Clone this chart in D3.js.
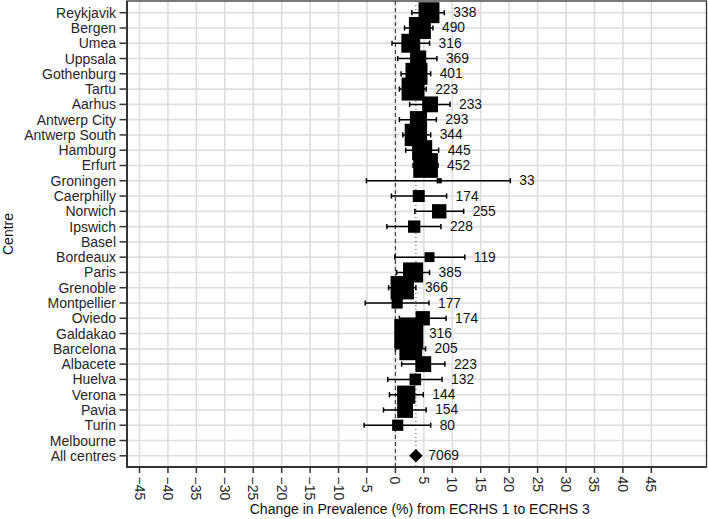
<!DOCTYPE html>
<html>
<head>
<meta charset="utf-8">
<script src="https://cdn.jsdelivr.net/npm/d3@7"></script>
<style>
  html, body { margin: 0; padding: 0; background: #fff; }
  svg { display: block; font-family: "Liberation Sans", Arial, sans-serif; }
</style>
</head>
<body>
<svg id="chart" width="708" height="519"></svg>
<script>
const centres = ["Reykjavik","Bergen","Umea","Uppsala","Gothenburg","Tartu","Aarhus","Antwerp City","Antwerp South","Hamburg","Erfurt","Groningen","Caerphilly","Norwich","Ipswich","Basel","Bordeaux","Paris","Grenoble","Montpellier","Oviedo","Galdakao","Barcelona","Albacete","Huelva","Verona","Pavia","Turin","Melbourne","All centres"];
const estimate = [5.9, 4.3, 2.7, 4.0, 3.7, 3.1, 6.1, 4.05, 3.6, 4.7, 5.3, 7.7, 4.1, 7.7, 3.3, null, 6.0, 3.1, 1.2, 0.3, 4.8, 2.35, 2.7, 4.9, 3.5, 1.9, 1.7, 0.4, null, 3.6];
const lower = [2.9, 1.6, -0.6, 0.4, 1.0, 0.7, 2.5, 0.7, 1.3, 1.8, 3.1, -5.1, -0.7, 3.4, -1.5, null, -0.1, 0.2, -1.2, -5.3, 0.7, 0.4, 0.0, 1.1, -1.35, -1.05, -2.1, -5.5, null, 3.0];
const upper = [8.6, 6.6, 6.0, 7.3, 6.2, 5.4, 9.6, 7.2, 6.2, 7.6, 7.5, 20.2, 9.0, 12.0, 8.0, null, 12.2, 6.0, 3.6, 5.9, 8.9, 4.3, 5.3, 8.7, 8.2, 4.9, 5.4, 6.2, null, 4.2];
const nSubjects = [338, 490, 316, 369, 401, 223, 233, 293, 344, 445, 452, 33, 174, 255, 228, null, 119, 385, 366, 177, 174, 316, 205, 223, 132, 144, 154, 80, null, 7069];
const weight = [4.9, 5.4, 4.0, 2.9, 5.4, 5.9, 2.8, 3.3, 5.6, 4.5, 6.8, 0.3, 1.6, 2.3, 1.7, null, 1.1, 4.5, 6.1, 1.4, 2.3, 9.4, 5.8, 2.8, 1.5, 3.7, 2.8, 1.4, null, null];
const overallName = "All centres";
const xTicks = [-45, -40, -35, -30, -25, -20, -15, -10, -5, 0, 5, 10, 15, 20, 25, 30, 35, 40, 45];
const xTitle = "Change in Prevalence (%) from ECRHS 1 to ECRHS 3";
const yTitle = "Centre";

const rows = centres.map((c, i) => ({
  centre: c, est: estimate[i], lo: lower[i], hi: upper[i], n: nSubjects[i], w: weight[i]
}));
const overall = rows.find(r => r.centre === overallName);

const svg = d3.select("#chart");
const panel = { left: 127, right: 706.5, top: 1, bottom: 467 };

const x = d3.scaleLinear().domain([-47.2, 54.7]).range([panel.left, panel.right]);
const y = d3.scalePoint().domain(centres).range([12.7, 455.8]);
const side = d3.scaleSqrt().domain([0, 10]).range([0, 29.9]);

const textCol = "#262626";
const fontSize = 14;

// panel background
svg.append("rect").attr("x", panel.left).attr("y", panel.top)
  .attr("width", panel.right - panel.left).attr("height", panel.bottom - panel.top)
  .attr("fill", "#fff");

// grid
const grid = svg.append("g").attr("stroke", "#dedede").attr("stroke-width", 1.6);
grid.selectAll("line.v").data(xTicks).join("line").attr("class", "v")
  .attr("x1", d => x(d)).attr("x2", d => x(d))
  .attr("y1", panel.top).attr("y2", panel.bottom);
grid.selectAll("line.h").data(centres).join("line").attr("class", "h")
  .attr("x1", panel.left).attr("x2", panel.right)
  .attr("y1", d => y(d)).attr("y2", d => y(d));

// reference lines
svg.append("line").attr("x1", x(0)).attr("x2", x(0))
  .attr("y1", panel.top).attr("y2", panel.bottom)
  .attr("stroke", "#444").attr("stroke-width", 1.2).attr("stroke-dasharray", "4,3");
svg.append("line").attr("x1", x(overall.est)).attr("x2", x(overall.est))
  .attr("y1", panel.top).attr("y2", panel.bottom)
  .attr("stroke", "#555").attr("stroke-width", 1.1).attr("stroke-dasharray", "1,3");

const valid = rows.filter(r => r.est != null);
const centreRows = valid.filter(r => r.centre !== overallName);

// whiskers
const wg = svg.append("g").attr("stroke", "#000").attr("stroke-width", 1.5);
valid.forEach(r => {
  const yy = y(r.centre);
  wg.append("line").attr("x1", x(r.lo)).attr("x2", x(r.hi)).attr("y1", yy).attr("y2", yy);
  [r.lo, r.hi].forEach(v => {
    wg.append("line").attr("x1", x(v)).attr("x2", x(v)).attr("y1", yy - 2.6).attr("y2", yy + 2.6);
  });
});

// squares
svg.append("g").selectAll("rect").data(centreRows).join("rect")
  .attr("x", d => x(d.est) - side(d.w) / 2)
  .attr("y", d => y(d.centre) - side(d.w) / 2)
  .attr("width", d => side(d.w)).attr("height", d => side(d.w))
  .attr("fill", "#000");

// overall diamond
const dx = x(overall.est), dy = y(overall.centre), dr = 6.8;
svg.append("path")
  .attr("d", `M${dx},${dy - dr}L${dx + dr},${dy}L${dx},${dy + dr}L${dx - dr},${dy}Z`)
  .attr("fill", "#000");

// n labels
svg.append("g").selectAll("text").data(valid).join("text")
  .attr("x", d => x(d.hi) + 9).attr("y", d => y(d.centre))
  .attr("dominant-baseline", "central")
  .attr("font-size", 13.8).attr("fill", "#111")
  .text(d => d.n);

// panel border
svg.append("rect").attr("x", panel.left).attr("y", panel.top)
  .attr("width", panel.right - panel.left).attr("height", panel.bottom - panel.top)
  .attr("fill", "none").attr("stroke", "#333").attr("stroke-width", 1.3);
// axis lines (thicker)
svg.append("line").attr("x1", panel.left).attr("x2", panel.left)
  .attr("y1", panel.top).attr("y2", panel.bottom + 0.8)
  .attr("stroke", "#333").attr("stroke-width", 2);
svg.append("line").attr("x1", panel.left - 0.8).attr("x2", panel.right)
  .attr("y1", panel.bottom).attr("y2", panel.bottom)
  .attr("stroke", "#333").attr("stroke-width", 2);

// y axis
const yAxis = svg.append("g");
yAxis.selectAll("line").data(centres).join("line")
  .attr("x1", panel.left - 7.5).attr("x2", panel.left)
  .attr("y1", d => y(d)).attr("y2", d => y(d))
  .attr("stroke", "#333").attr("stroke-width", 1.5);
yAxis.selectAll("text").data(centres).join("text")
  .attr("x", panel.left - 11).attr("y", d => y(d))
  .attr("text-anchor", "end").attr("dominant-baseline", "central")
  .attr("font-size", fontSize).attr("fill", textCol)
  .text(d => d);

// x axis
const xAxis = svg.append("g");
xAxis.selectAll("line").data(xTicks).join("line")
  .attr("x1", d => x(d)).attr("x2", d => x(d))
  .attr("y1", panel.bottom).attr("y2", panel.bottom + 6)
  .attr("stroke", "#333").attr("stroke-width", 1.5);
xAxis.selectAll("text").data(xTicks).join("text")
  .attr("transform", d => `translate(${x(d)},${panel.bottom + 9.5}) rotate(90)`)
  .attr("text-anchor", "start").attr("dominant-baseline", "central")
  .attr("font-size", fontSize).attr("fill", textCol)
  .text(d => d < 0 ? "\u2212" + Math.abs(d) : String(d));

// titles
svg.append("text").attr("x", (panel.left + panel.right) / 2 + 3).attr("y", 514)
  .attr("text-anchor", "middle").attr("font-size", fontSize).attr("fill", "#111")
  .text(xTitle);
svg.append("text").attr("transform", `translate(12.5,${(panel.top + panel.bottom) / 2}) rotate(-90)`)
  .attr("text-anchor", "middle").attr("font-size", fontSize).attr("fill", "#111")
  .text(yTitle);
</script>
</body>
</html>
